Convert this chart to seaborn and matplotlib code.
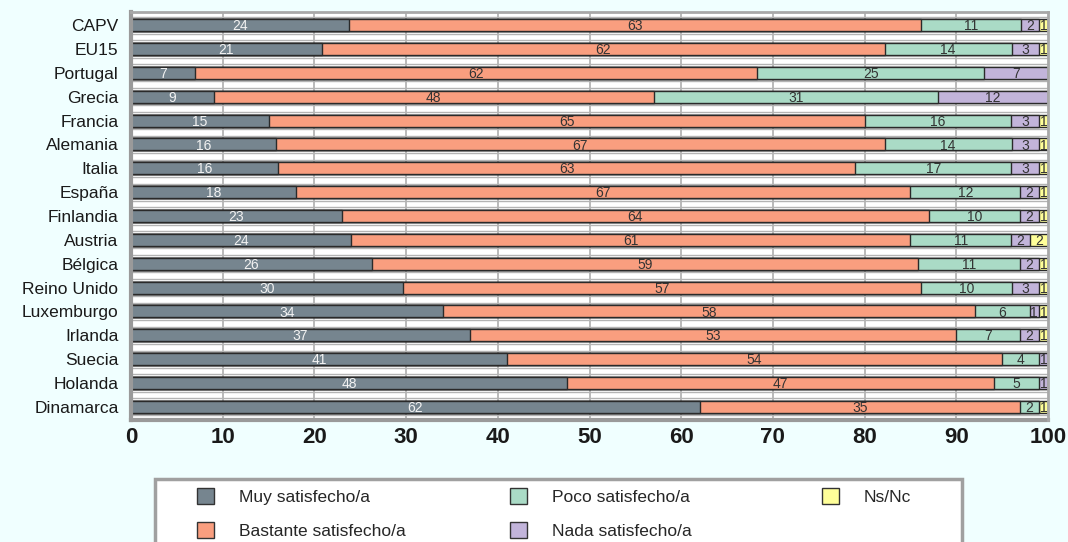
import numpy as np
import pandas as pd
import matplotlib
matplotlib.use("Agg")
import matplotlib.pyplot as plt
from matplotlib.patches import Patch, Rectangle
import seaborn as sns

countries = ["CAPV", "EU15", "Portugal", "Grecia", "Francia", "Alemania", "Italia",
             "España", "Finlandia", "Austria", "Bélgica", "Reino Unido", "Luxemburgo",
             "Irlanda", "Suecia", "Holanda", "Dinamarca"]
muy      = [24, 21, 7, 9, 15, 16, 16, 18, 23, 24, 26, 30, 34, 37, 41, 48, 62]
bastante = [63, 62, 62, 48, 65, 67, 63, 67, 64, 61, 59, 57, 58, 53, 54, 47, 35]
poco     = [11, 14, 25, 31, 16, 14, 17, 12, 10, 11, 11, 10, 6, 7, 4, 5, 2]
nada     = [2, 3, 7, 12, 3, 3, 3, 2, 2, 2, 2, 3, 1, 2, 1, 1, 0]
nsnc     = [1, 1, 0, 0, 1, 1, 1, 1, 1, 2, 1, 1, 1, 1, 0, 0, 1]
series_names = ["Muy satisfecho/a", "Bastante satisfecho/a", "Poco satisfecho/a",
                "Nada satisfecho/a", "Ns/Nc"]
colors = ["#76858F", "#F99E7F", "#AADBC6", "#C2B4DA", "#FFFF99"]
xticks = [0, 10, 20, 30, 40, 50, 60, 70, 80, 90, 100]

sns.set_theme(style="white")
plt.rcParams["font.family"] = ["Liberation Sans", "DejaVu Sans"]

W, H = 1068, 542
fig = plt.figure(figsize=(W / 100, H / 100), dpi=100, facecolor="#F0FFFF")
ax = fig.add_axes([131 / W, 1 - 420 / H, (1048 - 131) / W, (420 - 12) / H])
ax.set_facecolor("white")
ax.set_axisbelow(True)

raw = np.array([muy, bastante, poco, nada, nsnc], dtype=float)
pct = raw / raw.sum(axis=0) * 100
cum = np.cumsum(pct, axis=0)

for k in range(4, -1, -1):
    sns.barplot(x=cum[k], y=countries, orient="h", color=colors[k], width=0.5,
                edgecolor="#2a2a2a", linewidth=1.0, saturation=1, ax=ax)
for p in ax.patches:
    p.set_zorder(2)

# grid lines (behind bars)
for t in xticks[1:-1]:
    ax.axvline(t, color="#B4B4B4", lw=1.3, zorder=0.5)
for i in range(len(countries)):
    ax.axhline(i - 0.36, color="#B4B4B4", lw=1.0, zorder=0.5)
    ax.axhline(i + 0.36, color="#B4B4B4", lw=1.0, zorder=0.5)

for i in range(len(countries)):
    for k in range(5):
        if raw[k, i] > 0:
            ax.text(cum[k, i] - pct[k, i] / 2, i + 0.05, f"{int(raw[k, i])}",
                    ha="center", va="center", fontsize=10,
                    color="#F2F2F2" if k == 0 else "#333333", zorder=3)

ax.set_xlim(0, 100)
ax.set_ylim(len(countries) - 0.45, -0.55)
ax.set_xticks(xticks)
ax.set_xticklabels([str(t) for t in xticks], fontsize=16, fontweight="bold", color="#1a1a1a")
ax.tick_params(axis="x", length=0, pad=5)
ax.tick_params(axis="y", length=0, pad=9, labelsize=12.5, labelcolor="#1a1a1a")
ax.set_xlabel("")
ax.set_ylabel("")
for s in ["left", "bottom"]:
    ax.spines[s].set_color("#9A9A9A")
    ax.spines[s].set_linewidth(3)
for s in ["top", "right"]:
    ax.spines[s].set_color("#A8A8A8")
    ax.spines[s].set_linewidth(2)
    ax.spines[s].set_zorder(4)

# legend box
fig.patches.append(Rectangle((155 / W, -0.1), (962 - 155) / W, 0.1 + 1 - 479 / H,
                             transform=fig.transFigure, facecolor="white",
                             edgecolor="#A0A0A0", lw=2.5, zorder=0))
handles = [Patch(facecolor=c, edgecolor="#333333", lw=1) for c in colors]
groups = [([0, 1], 197), ([2, 3], 510), ([4], 822)]
for idx, xpos in groups:
    fig.legend([handles[j] for j in idx], [series_names[j] for j in idx],
               loc="upper left", bbox_to_anchor=(xpos / W, 1 - 488 / H),
               frameon=False, fontsize=12.5, handlelength=1.0, handleheight=1.0,
               handletextpad=1.4, labelspacing=1.0, borderpad=0, borderaxespad=0)

fig.savefig("out.png", dpi=100, facecolor=fig.get_facecolor())
